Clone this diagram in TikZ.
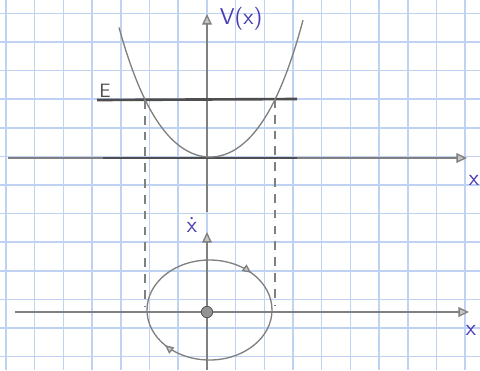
\documentclass[tikz,border=0pt]{standalone}
\usetikzlibrary{arrows.meta,decorations.markings}
\definecolor{pencil}{RGB}{128,128,128}
\definecolor{darkpencil}{RGB}{78,78,78}
\definecolor{ink}{RGB}{72,62,178}
\definecolor{gridblue}{RGB}{192,210,242}
\begin{document}
\begin{tikzpicture}[
        x={(0.02cm,0cm)},
        y={(0cm,-0.02cm)},
        every node/.style={font=\sffamily,inner sep=0pt},
        grid line/.style={gridblue,line width=0.9pt},
        pencil line/.style={pencil,line width=0.75pt},
        heavy line/.style={darkpencil,line width=1.5pt},
        guide line/.style={pencil,line width=0.8pt,dash pattern=on 5pt off 4pt},
        axis arrow/.style={-{Triangle[length=6pt,width=5.5pt,fill=pencil!45]}},
        orbit/.style={pencil line,postaction={decorate},decoration={markings,
            mark=at position 0.385 with {\arrow{Triangle[length=5pt,width=4.5pt,fill=pencil!45]}},
            mark=at position 0.875 with {\arrow{Triangle[length=5pt,width=4.5pt,fill=pencil!45]}}}},
        ink label/.style={text=ink,font=\sffamily\fontsize{13}{15}\selectfont},
        rest dot/.style={circle,fill=pencil!85,draw=darkpencil,line width=0.4pt,minimum size=6.5pt}
    ]
        \def\gx{28.7}
        \def\gy{28.6}

        \useasboundingbox (0,0) rectangle (480,370);
        \fill[white] (0,0) rectangle (480,370);

        % squared paper
        \foreach \i in {0,...,16} {
            \draw[grid line] ({6+\gx*\i},0) -- ({6+\gx*\i},370);
        }
        \foreach \j in {0,...,12} {
            \draw[grid line] (0,{13.3+\gy*\j}) -- (480,{13.3+\gy*\j});
        }

        % potential
        \coordinate (vbot) at (207,212);
        \coordinate (vtop) at (207,14);
        \coordinate (xstart) at (8,158);
        \coordinate (xend) at (467,158);
        \coordinate (xheavyl) at (103,158);
        \coordinate (xheavyr) at (297,158);
        \coordinate (eleft) at (97,100);
        \coordinate (eright) at (297,99);

        \draw[pencil line,axis arrow] (vbot) -- (vtop);
        \draw[pencil line,axis arrow] (xstart) -- (xend);
        \draw[heavy line] (xheavyl) -- (xheavyr);
        \draw[heavy line] (eleft) -- (eright);
        \draw[pencil line] plot[domain=-91:93,samples=80,smooth]
            ({210+\x},{157-115*(\x/100)*(\x/100)-50*(\x/100)*(\x/100)*(\x/100)*(\x/100)});

        \node[ink label] (vlabel) at (241,19) {V(x)};
        \node[text=darkpencil,font=\sffamily\fontsize{11}{13}\selectfont] (elabel) at (105,91) {E};
        \node[ink label] (xlabel) at (474,180) {x};

        % turning points
        \coordinate (tpl) at (145,100);
        \coordinate (tplend) at (145,307);
        \coordinate (tpr) at (275,99);
        \coordinate (tprend) at (275,305);
        \draw[guide line] (tpl) -- (tplend);
        \draw[guide line] (tpr) -- (tprend);

        % phase plane
        \coordinate (pstart) at (15,312);
        \coordinate (pend) at (469,312);
        \coordinate (vdbot) at (207,370);
        \coordinate (vdtop) at (207,232);
        \draw[pencil line,axis arrow] (pstart) -- (pend);
        \draw[pencil line,axis arrow] (vdbot) -- (vdtop);
        \draw[orbit] (209.5,310) ellipse [x radius=62.5,y radius=50];
        \node[rest dot] (origin) at (207,312) {};

        \node[ink label] (xdotlabel) at (192,225) {\.x};
        \node[ink label] (plabel) at (471,330) {x};
    \end{tikzpicture}
\end{document}
